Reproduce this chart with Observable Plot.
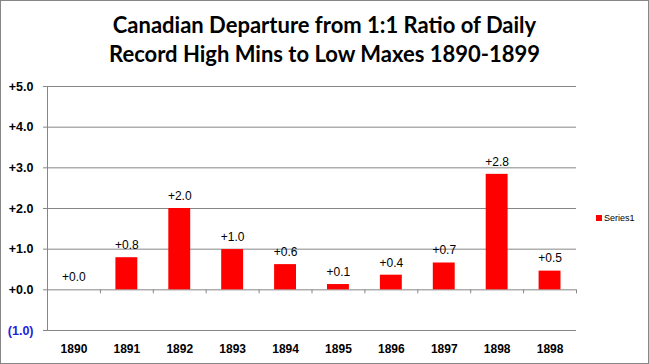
<!DOCTYPE html>
<html><head><meta charset="utf-8">
<script src="https://cdn.jsdelivr.net/npm/d3@7"></script>
<script src="https://cdn.jsdelivr.net/npm/@observablehq/plot@0.6"></script>
<style>
body{margin:0;background:#fff}
#wrap{position:relative;width:649px;height:364px;overflow:hidden;font-family:Lato,"Open Sans",sans-serif;background:#fff}
#chart{position:absolute;left:0;top:0}
#frame{position:absolute;left:0;top:0;width:649px;height:364px;box-sizing:border-box;border:1px solid #868686;pointer-events:none}
#title{position:absolute;left:0;width:649px;top:10px;text-align:center;font-weight:bold;font-size:22px;line-height:29px;color:#000}
#legend{position:absolute;left:596px;top:212px;font-family:"Liberation Sans",Arial,sans-serif;font-size:9px;line-height:12px;display:flex;align-items:center}
#legend .sw{width:6px;height:6px;background:#ff0000;margin-right:2px}
</style></head>
<body>
<div id="wrap">
  <div id="chart"></div>
  <div id="title">Canadian Departure from 1:1 Ratio of Daily<br>Record High Mins to Low Maxes 1890-1899</div>
  <div id="legend"><span class="sw"></span><span>Series1</span></div>
  <div id="frame"></div>
</div>
<script>
const years = ["1890","1891","1892","1893","1894","1895","1896","1897","1898","1898"];
const values = [0.0, 0.79, 2.0, 0.99, 0.62, 0.13, 0.36, 0.66, 2.84, 0.46];
const yTicks = [-1, 0, 1, 2, 3, 4, 5];

const data = years.map((year, i) => ({i, year, value: values[i]}));
const fmt = v => v < 0 ? `(${Math.abs(v).toFixed(1)})` : `+${v.toFixed(1)}`;
const grid = "#868686";
const font = "'Liberation Sans', Arial, sans-serif";

const chart = Plot.plot({
  width: 649, height: 364,
  marginLeft: 47, marginRight: 73, marginTop: 86, marginBottom: 34,
  style: {fontFamily: font, background: "transparent", overflow: "visible"},
  x: {type: "linear", domain: [0, years.length], axis: null},
  y: {domain: [-1, 5], axis: null},
  marks: [
    Plot.ruleY(yTicks, {stroke: grid, strokeWidth: 1, insetLeft: -4}),
    Plot.ruleX([0], {stroke: grid}),
    Plot.ruleX(d3.range(1, years.length + 1), {y1: 0, y2: 0, insetBottom: -4, stroke: grid}),
    Plot.rectY(data, {x1: d => d.i, x2: d => d.i + 1, y: "value", fill: "#ff0000", insetLeft: 15.5, insetRight: 15.5}),
    Plot.text(data, {x: d => d.i + 0.5, y: "value", text: d => fmt(d.value), dy: -12.5, fontSize: 12, fill: "#000"}),
    Plot.text(data, {x: d => d.i + 0.5, y: () => -1, text: "year", dy: 19, fontSize: 12, fontWeight: "bold", fill: "#000"}),
    Plot.text(yTicks, {x: () => 0, y: d => d, text: fmt, textAnchor: "end", dx: -14, fontSize: 12.5, fontWeight: "bold", fill: d => d < 0 ? "#2222dd" : "#000"})
  ]
});
document.getElementById("chart").appendChild(chart);
</script>
</body></html>
